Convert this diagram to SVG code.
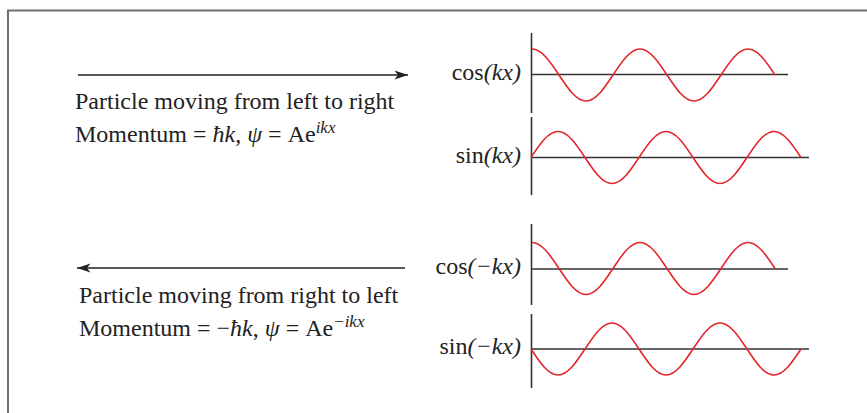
<svg xmlns="http://www.w3.org/2000/svg" width="867" height="413" viewBox="0 0 867 413">
  <style>
    .t { font-family: "Liberation Serif", "Times New Roman", serif; font-size: 24px; fill: #222; }
    .i { font-style: italic; }
    .sup { font-style: italic; font-size: 17px; }
    .axis { stroke: #333; stroke-width: 1.6; fill: none; }
    .wave { stroke: #e3262b; stroke-width: 1.6; fill: none; }
    .arrow { stroke: #222; stroke-width: 1.5; fill: none; marker-end: url(#head); }
  </style>
  <defs>
    <marker id="head" markerUnits="userSpaceOnUse" markerWidth="20" markerHeight="14" viewBox="-14 -7 16 14" refX="0" refY="0" orient="auto">
      <path d="M0,0 L-13.5,-4.6 L-10,0 L-13.5,4.6 Z" fill="#222"/>
    </marker>
    <path id="cosw" d="M0,-26 c9.77,0 18.2,12.68 27,26 s17.23,26 27,26 s18.2,-12.68 27,-26 s17.23,-26 27,-26 s18.2,12.68 27,26 s17.23,26 27,26 s18.2,-12.68 27,-26 s17.23,-26 27,-26 s18.2,12.68 27,26"/>
    <path id="sinw" d="M0,0 c8.8,-13.32 17.23,-26 27,-26 s18.2,12.68 27,26 s17.23,26 27,26 s18.2,-12.68 27,-26 s17.23,-26 27,-26 s18.2,12.68 27,26 s17.23,26 27,26 s18.2,-12.68 27,-26 s17.23,-26 27,-26 s18.2,12.68 27,26"/>
  </defs>

  <rect width="867" height="413" fill="#ffffff"/>
  <path d="M8,413 V10.5 H867" fill="none" stroke="#6e6e6e" stroke-width="2"/>

  <g id="connectors">
    <line class="arrow" x1="78" y1="75" x2="408" y2="75"/>
    <line class="arrow" x1="405" y1="268" x2="77" y2="268"/>
  </g>

  <g id="label-right">
    <text class="t" x="75" y="109">Particle moving from left to right</text>
    <text class="t" x="75" y="142">Momentum = <tspan class="i">ħk</tspan>, <tspan class="i">ψ</tspan> = Ae<tspan class="sup" dy="-9">ikx</tspan></text>
  </g>

  <g id="label-left">
    <text class="t" x="79" y="303">Particle moving from right to left</text>
    <text class="t" x="79" y="336">Momentum = −<tspan class="i">ħk</tspan>, <tspan class="i">ψ</tspan> = Ae<tspan class="sup" dy="-9">−ikx</tspan></text>
  </g>

  <g id="plot-cos-kx">
    <line class="axis" x1="531.5" y1="33" x2="531.5" y2="113"/>
    <line class="axis" x1="531" y1="74.5" x2="788" y2="74.5"/>
    <use href="#cosw" class="wave" transform="translate(532,75)"/>
    <text class="t" x="521" y="80" text-anchor="end">cos<tspan class="i">(kx)</tspan></text>
  </g>

  <g id="plot-sin-kx">
    <line class="axis" x1="531.5" y1="117" x2="531.5" y2="195"/>
    <line class="axis" x1="531" y1="157.5" x2="809" y2="157.5"/>
    <use href="#sinw" class="wave" transform="translate(531,157.5)"/>
    <text class="t" x="521" y="163" text-anchor="end">sin<tspan class="i">(kx)</tspan></text>
  </g>

  <g id="plot-cos-minus-kx">
    <line class="axis" x1="531.5" y1="224" x2="531.5" y2="305"/>
    <line class="axis" x1="531" y1="269" x2="788" y2="269"/>
    <use href="#cosw" class="wave" transform="translate(532,268.5)"/>
    <text class="t" x="521" y="274" text-anchor="end">cos<tspan class="i">(−kx)</tspan></text>
  </g>

  <g id="plot-sin-minus-kx">
    <line class="axis" x1="531.5" y1="314" x2="531.5" y2="388"/>
    <line class="axis" x1="531" y1="349" x2="809" y2="349"/>
    <use href="#sinw" class="wave" transform="translate(531,349) scale(1,-1)"/>
    <text class="t" x="521" y="354" text-anchor="end">sin<tspan class="i">(−kx)</tspan></text>
  </g>
</svg>
